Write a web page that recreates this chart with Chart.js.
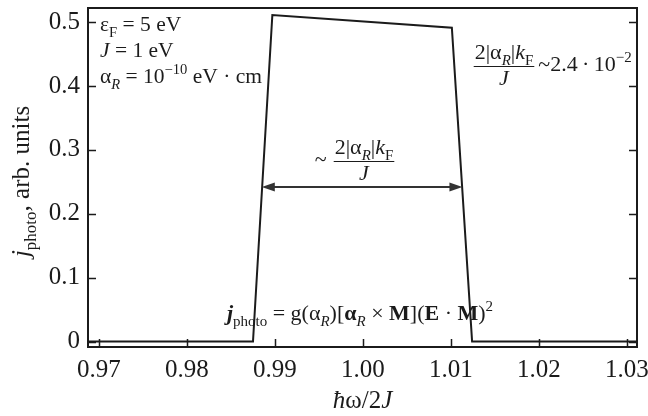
<!DOCTYPE html>
<html>
<head>
<meta charset="utf-8">
<script src="https://cdn.jsdelivr.net/npm/chart.js@4.4.1/dist/chart.umd.min.js"></script>
<style>
  html, body { margin: 0; background: #fff; }
  #wrap { width: 648px; height: 416px; }
</style>
</head>
<body>
<div id="wrap"><canvas id="c"></canvas></div>
<script>
// ---- data ----
const photonEnergy = [0.9688, 0.9875, 0.9897, 1.0101, 1.0124, 1.0311];
const photoCurrent = [0, 0, 0.511, 0.491, 0, 0];
const xTicks = [0.97, 0.98, 0.99, 1.00, 1.01, 1.02, 1.03];
const yTicks = [0, 0.1, 0.2, 0.3, 0.4, 0.5];
const arrowEnds = [0.9885, 1.0113]; // width arrow, x
const arrowLevel = 0.242;

const SERIF = '"Liberation Serif", "DejaVu Serif", serif';
const INK = '#1b1b1b';

// runs: [text, flags]  flags: i italic, b bold, _ sub, ^ sup
function runFont(r, size) {
  const f = r[1] || '';
  const s = (f.includes('_') || f.includes('^')) ? size * 0.68 : size;
  return (f.includes('i') ? 'italic ' : '') + (f.includes('b') ? 'bold ' : '') + s.toFixed(1) + 'px ' + SERIF;
}
function runsWidth(ctx, runs, size) {
  let w = 0;
  runs.forEach((r) => { ctx.font = runFont(r, size); w += ctx.measureText(r[0]).width; });
  return w;
}
function drawRuns(ctx, runs, x, y, size, align) {
  const w = runsWidth(ctx, runs, size);
  let cx = align === 'center' ? x - w / 2 : align === 'right' ? x - w : x;
  ctx.textAlign = 'left';
  ctx.textBaseline = 'alphabetic';
  runs.forEach((r) => {
    const f = r[1] || '';
    ctx.font = runFont(r, size);
    const dy = f.includes('_') ? size * 0.27 : f.includes('^') ? -size * 0.4 : 0;
    ctx.fillText(r[0], cx, y + dy);
    cx += ctx.measureText(r[0]).width;
  });
  return w;
}

const ratioNum = [['2|α'], ['R', '_i'], ['|'], ['k', 'i'], ['F', '_']];
const ratioDen = [['J', 'i']];
function drawFraction(ctx, cx, yBar, size) {
  const w = runsWidth(ctx, ratioNum, size);
  drawRuns(ctx, ratioNum, cx, yBar - 7, size, 'center');
  drawRuns(ctx, ratioDen, cx, yBar + 19, size, 'center');
  ctx.lineWidth = 1.2;
  ctx.beginPath();
  ctx.moveTo(cx - w / 2 - 1, yBar + 0.5);
  ctx.lineTo(cx + w / 2 + 1, yBar + 0.5);
  ctx.stroke();
  return w;
}

const decorPlugin = {
  id: 'decor',
  afterDraw(chart) {
    const { ctx, chartArea: a, scales } = chart;
    const xs = scales.x, ys = scales.y;
    ctx.save();
    ctx.strokeStyle = INK;
    ctx.fillStyle = INK;

    // frame
    ctx.lineWidth = 2;
    ctx.strokeRect(a.left, a.top, a.right - a.left, a.bottom - a.top);

    // inward ticks: bottom, left, right
    ctx.lineWidth = 1.5;
    ctx.beginPath();
    xTicks.forEach((v) => {
      const px = Math.round(xs.getPixelForValue(v)) + 0.5;
      ctx.moveTo(px, a.bottom);
      ctx.lineTo(px, a.bottom - 8);
    });
    yTicks.forEach((v) => {
      const py = Math.round(ys.getPixelForValue(v)) + 0.5;
      ctx.moveTo(a.left, py);
      ctx.lineTo(a.left + 8, py);
      ctx.moveTo(a.right, py);
      ctx.lineTo(a.right - 8, py);
    });
    ctx.stroke();

    // width arrow
    const ay = ys.getPixelForValue(arrowLevel);
    const x1 = xs.getPixelForValue(arrowEnds[0]);
    const x2 = xs.getPixelForValue(arrowEnds[1]);
    ctx.strokeStyle = '#333';
    ctx.fillStyle = '#333';
    ctx.lineWidth = 2;
    ctx.beginPath();
    ctx.moveTo(x1 + 8, ay);
    ctx.lineTo(x2 - 8, ay);
    ctx.stroke();
    [[x1, 1], [x2, -1]].forEach(([x, d]) => {
      ctx.beginPath();
      ctx.moveTo(x, ay);
      ctx.lineTo(x + d * 13, ay - 4.5);
      ctx.lineTo(x + d * 13, ay + 4.5);
      ctx.closePath();
      ctx.fill();
    });

    ctx.strokeStyle = INK;
    ctx.fillStyle = INK;

    // parameters, top left
    const px0 = a.left + 12;
    drawRuns(ctx, [['ε'], ['F', '_'], [' = 5 eV']], px0, 31, 21.5, 'left');
    drawRuns(ctx, [['J', 'i'], [' = 1 eV']], px0, 57, 21.5, 'left');
    drawRuns(ctx, [['α'], ['R', '_i'], [' = 10'], ['−10', '^'], [' eV · cm']], px0, 83, 21.5, 'left');

    // right annotation
    const wR = drawFraction(ctx, 504, 66, 22);
    drawRuns(ctx, [['~2.4\u2009·\u200910'], ['−2', '^']], 504 + wR / 2 + 5, 71, 22, 'left');

    // middle annotation
    const wM = drawFraction(ctx, 364, 161, 22);
    drawRuns(ctx, [['~']], 364 - wM / 2 - 8, 166, 22, 'right');

    // formula
    drawRuns(ctx, [['j', 'bi'], ['photo', '_'], [' = g(α'], ['R', '_i'], [')['], ['α', 'b'], ['R', '_i'],
      [' × '], ['M', 'b'], ['](' ], ['E', 'b'], [' · '], ['M', 'b'], [')'], ['2', '^']], 360, 320, 22, 'center');

    // axis titles
    drawRuns(ctx, [['ħ', 'i'], ['ω/2'], ['J', 'i']], (a.left + a.right) / 2, 408, 25, 'center');
    ctx.translate(29, (a.top + a.bottom) / 2 + 4);
    ctx.rotate(-Math.PI / 2);
    drawRuns(ctx, [['j', 'i'], ['photo', '_'], [', arb. units']], 0, 0, 25, 'center');

    ctx.restore();
  }
};

new Chart(document.getElementById('c'), {
  type: 'scatter',
  data: {
    datasets: [{
      data: photonEnergy.map((x, i) => ({ x, y: photoCurrent[i] })),
      showLine: true,
      borderColor: INK,
      borderWidth: 2,
      pointRadius: 0,
      tension: 0
    }]
  },
  options: {
    responsive: true,
    maintainAspectRatio: false,
    animation: false,
    layout: { padding: { top: 8, right: 11, left: 0, bottom: 0 } },
    plugins: { legend: { display: false }, tooltip: { enabled: false } },
    scales: {
      x: {
        type: 'linear',
        min: 0.96875,
        max: 1.03114,
        grid: { display: false, drawTicks: false },
        border: { display: false },
        afterBuildTicks: (s) => { s.ticks = xTicks.map((v) => ({ value: v })); },
        afterFit: (s) => { s.height = 69; s.paddingLeft = 0; s.paddingRight = 0; },
        ticks: {
          autoSkip: false,
          maxRotation: 0,
          padding: 8,
          color: INK,
          font: { family: SERIF, size: 25 },
          callback: (v) => Number(v).toFixed(2)
        }
      },
      y: {
        min: -0.0086,
        max: 0.522,
        grid: { display: false, drawTicks: false },
        border: { display: false },
        afterBuildTicks: (s) => { s.ticks = yTicks.map((v) => ({ value: v })); },
        afterFit: (s) => { s.width = 88; s.paddingTop = 0; s.paddingBottom = 0; },
        ticks: {
          padding: 8,
          color: INK,
          font: { family: SERIF, size: 25 },
          callback: (v) => (v === 0 ? '0' : Number(v).toFixed(1))
        }
      }
    }
  },
  plugins: [decorPlugin]
});
</script>
</body>
</html>
